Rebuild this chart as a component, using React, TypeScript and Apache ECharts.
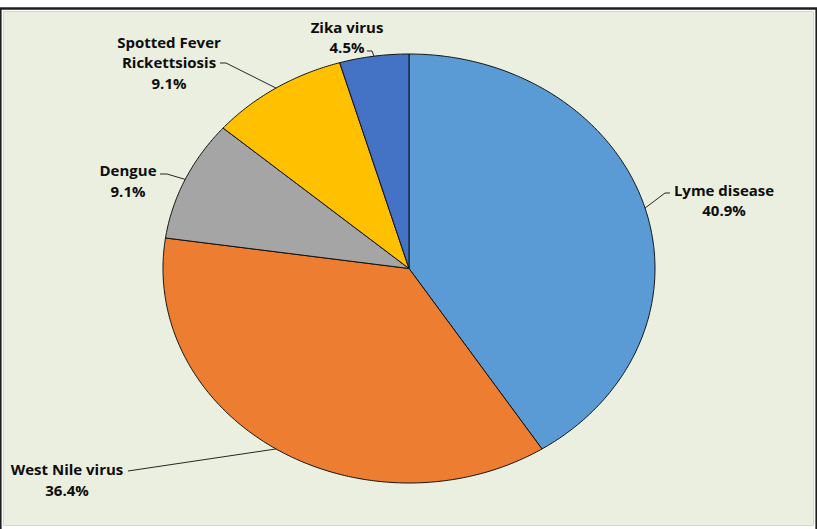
import React, { useEffect, useRef } from "react";
import * as echarts from "echarts";

const categories = [
  "Lyme disease",
  "West Nile virus",
  "Dengue",
  "Spotted Fever\nRickettsiosis",
  "Zika virus",
];
const caseCounts = [9, 8, 2, 2, 1];
const sliceColors = ["#5B9BD5", "#ED7D31", "#A5A5A5", "#FFC000", "#4472C4"];

// layout (pixels): pie ellipse and label placement
const PIE = { cx: 409, cy: 268.5, rx: 246, ry: 214.5 };
const LABELS = [
  { x: 724, y: 200, elbow: [[665, 193], [670, 193]] },
  { x: 67, y: 479.5, elbow: [[128, 471]] },
  { x: 128, y: 180.5, elbow: [[167, 174], [160, 174]] },
  { x: 169, y: 62, elbow: [[226, 63], [220, 63]] },
  { x: 347, y: 37, elbow: [[372, 51], [367, 51]] },
];

const FONT = "'Open Sans', 'Liberation Sans', sans-serif";

export default function App() {
  const ref = useRef<HTMLDivElement>(null);
  useEffect(() => {
    if (!ref.current) return;
    const chart = echarts.init(ref.current, undefined, { renderer: "svg" });
    const total = caseCounts.reduce((a, b) => a + b, 0);
    const cum: number[] = [];
    let acc = 0;
    caseCounts.forEach((v) => {
      cum.push(acc);
      acc += v;
    });
    const pt = (t: number) => [
      PIE.cx + PIE.rx * Math.sin(t),
      PIE.cy - PIE.ry * Math.cos(t),
    ];
    chart.setOption({
      animation: false,
      graphic: [
        {
          type: "rect",
          z: -10,
          shape: { x: 3.5, y: 11.5, width: 810, height: 514 },
          style: { fill: "#EBEFDF", stroke: "#D5D8CC", lineWidth: 1 },
        },
        {
          type: "line",
          z: -9,
          shape: { x1: 0, y1: 8.5, x2: 817, y2: 8.5 },
          style: { stroke: "#1E1E1E", lineWidth: 2.5 },
        },
        {
          type: "line",
          z: -9,
          shape: { x1: 0.8, y1: 8, x2: 0.8, y2: 529 },
          style: { stroke: "#1E1E1E", lineWidth: 1.6 },
        },
        {
          type: "line",
          z: -9,
          shape: { x1: 816.2, y1: 8, x2: 816.2, y2: 529 },
          style: { stroke: "#1E1E1E", lineWidth: 1.6 },
        },
      ],
      series: [
        {
          type: "custom",
          coordinateSystem: "none",
          data: caseCounts.map((v) => [v]),
          renderItem: (params: any, api: any) => {
            const i = params.dataIndex;
            const v = api.value(0) as number;
            const start = (cum[i] / total) * Math.PI * 2;
            const end = start + (v / total) * Math.PI * 2;
            const steps = Math.max(8, Math.ceil(((end - start) * 180) / Math.PI / 0.5));
            const points: number[][] = [[PIE.cx, PIE.cy]];
            for (let k = 0; k <= steps; k++) {
              points.push(pt(start + ((end - start) * k) / steps));
            }
            const edge = pt((start + end) / 2);
            const L = LABELS[i];
            const pct = ((v / total) * 100).toFixed(1) + "%";
            return {
              type: "group",
              children: [
                {
                  type: "polygon",
                  shape: { points },
                  style: { fill: sliceColors[i], stroke: "#111", lineWidth: 1 },
                },
                {
                  type: "polyline",
                  shape: { points: [edge, ...L.elbow] },
                  style: { stroke: "#262626", lineWidth: 1, fill: null },
                },
                {
                  type: "text",
                  x: L.x,
                  y: L.y,
                  style: {
                    text: categories[i] + "\n" + pct,
                    fontFamily: FONT,
                    fontWeight: "bold",
                    fontSize: 15,
                    lineHeight: 20.5,
                    fill: "#0D0D0D",
                    align: "center",
                    verticalAlign: "middle",
                  },
                },
              ],
            };
          },
        },
      ],
    });
    return () => chart.dispose();
  }, []);
  return (
    <div
      ref={ref}
      style={{
        position: "fixed",
        left: 0,
        top: 0,
        width: 817,
        height: 529,
        background: "#FFFFFF",
      }}
    />
  );
}
